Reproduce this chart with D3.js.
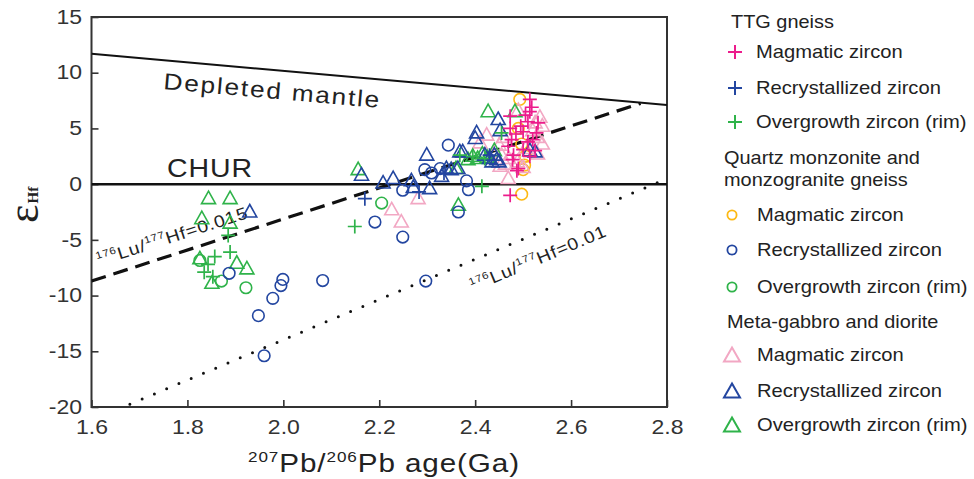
<!DOCTYPE html>
<html>
<head>
<meta charset="utf-8">
<script src="https://cdn.jsdelivr.net/npm/d3@7"></script>
<style>
  html, body { margin: 0; padding: 0; background: #fff; }
  svg { display: block; font-family: Arial, "Liberation Sans", Helvetica, sans-serif; }
</style>
</head>
<body>
<svg id="chart" width="974" height="479"></svg>
<script>
// ---- axis ticks ----
const xTicks = [1.6, 1.8, 2.0, 2.2, 2.4, 2.6, 2.8];
const yTicks = [-20, -15, -10, -5, 0, 5, 10, 15];

// ---- reference evolution lines [age (Ga), εHf] ----
const depletedMantle = [[1.6, 11.7], [2.8, 7.1]];
const chur = [[1.6, 0], [2.8, 0]];
const lu015 = [[1.6, -8.7], [2.745, 7.25]];
const lu010 = [[1.68, -19.75], [2.795, 0.4]];

// ---- TTG gneiss ----
const ttgMagmatic = [
  [2.514, 7.6], [2.514, 6.5], [2.473, 6.1], [2.510, 5.6], [2.531, 5.5], [2.473, 5.0],
  [2.500, 4.7], [2.528, 4.6], [2.476, 4.0], [2.510, 3.8], [2.469, 3.4], [2.500, 3.1],
  [2.525, 3.0], [2.480, 2.6], [2.514, 2.5], [2.490, 1.4], [2.487, 1.2], [2.473, -1.0],
  [2.495, 5.2], [2.520, 4.0], [2.505, 6.2], [2.485, 4.5], [2.478, 2.2], [2.518, 6.9]
];
const ttgRecryst = [[2.170, -1.3], [2.283, -0.7], [2.335, 1.0], [2.430, 2.6]];
const ttgOvergrowth = [
  [1.885, -4.6], [1.889, -6.1], [1.857, -6.5], [1.843, -7.2], [1.835, -7.9], [1.853, -8.3],
  [2.149, -3.8], [2.414, -0.2], [2.455, 4.6], [2.368, 2.6], [2.395, 2.5], [2.420, 2.3]
];

// ---- Quartz monzonite and monzogranite gneiss ----
const qmMagmatic = [[2.493, 7.6], [2.500, 1.3], [2.497, -0.9], [2.503, 1.7], [2.497, 3.6], [2.490, 5.0], [2.505, 2.5]];
const qmRecryst = [
  [1.887, -8.0], [1.948, -11.8], [1.978, -10.25], [1.995, -9.1], [1.999, -8.55], [2.082, -8.65],
  [1.960, -15.4], [2.297, -8.7], [2.191, -3.4], [2.249, -4.75], [2.249, -0.55], [2.295, 1.3],
  [2.344, 3.5], [2.309, 1.0], [2.327, 1.4], [2.382, 0.3], [2.386, -0.5], [2.365, -2.5]
];
const qmOvergrowth = [[1.826, -6.85], [1.871, -8.7], [1.922, -9.3], [2.205, -1.7]];

// ---- Meta-gabbro and diorite ----
const mgMagmatic = [
  [2.226, -2.3], [2.246, -3.4], [2.281, -1.3], [2.424, 4.4], [2.469, 0.5], [2.463, 1.8],
  [2.488, 2.0], [2.450, 3.5], [2.455, 2.6], [2.460, 4.2], [2.490, 6.6], [2.525, 5.5],
  [2.540, 5.2], [2.530, 4.2], [2.505, 3.2], [2.540, 3.6], [2.530, 2.7], [2.470, 2.3],
  [2.500, 1.5], [2.410, 3.7], [2.452, 1.6], [2.535, 6.0], [2.520, 4.8]
];
const mgRecryst = [
  [1.930, -2.5], [2.163, 0.8], [2.208, 0.1], [2.229, 0.5], [2.267, 0.3], [2.271, -0.3],
  [2.305, -0.4], [2.299, 2.6], [2.330, 0.7], [2.340, 1.4], [2.350, 1.3], [2.374, 2.9],
  [2.364, 1.4], [2.400, 4.1], [2.448, 5.8], [2.452, 4.8], [2.420, 2.6], [2.430, 2.3],
  [2.435, 2.0], [2.440, 2.6], [2.445, 2.2], [2.450, 2.0], [2.514, 3.0], [2.525, 2.9],
  [2.368, 2.9], [2.403, 4.6]
];
const mgOvergrowth = [
  [1.844, -1.3], [1.889, -1.3], [1.830, -3.1], [1.889, -3.5], [1.826, -6.7], [1.903, -7.1],
  [1.924, -7.6], [1.851, -8.9], [2.156, 1.3], [2.365, -1.9], [2.427, 6.5], [2.483, 6.5],
  [2.360, 1.4], [2.385, 2.2], [2.395, 2.5], [2.405, 2.3], [2.415, 2.7], [2.425, 2.4], [2.440, 3.0]
];

const C = {
  magenta: "#ec1c8c",
  blue: "#2346a0",
  green: "#2fb34a",
  yellow: "#fdb913",
  pink: "#f2a7c3",
  ink: "#222"
};
// the lettering is a wide sans; Arial is stretched horizontally to follow it
const WIDE = 1.14;

const svg = d3.select("#chart");
const x = d3.scaleLinear().domain([1.6, 2.8]).range([91.5, 667]);
const y = d3.scaleLinear().domain([-20, 15]).range([407, 17]);

svg.append("defs").append("clipPath").attr("id", "plotClip")
  .append("rect").attr("x", x(1.6)).attr("y", y(15))
  .attr("width", x(2.8) - x(1.6)).attr("height", y(-20) - y(15));

// axes with inward ticks
const xAxis = svg.append("g").attr("transform", `translate(0,${y(-20)})`)
  .call(d3.axisBottom(x).tickValues(xTicks).tickFormat(d3.format(".1f"))
    .tickSizeInner(-7).tickSizeOuter(0).tickPadding(13));
const yAxis = svg.append("g").attr("transform", `translate(${x(1.6)},0)`)
  .call(d3.axisLeft(y).tickValues(yTicks).tickFormat(d => d)
    .tickSizeInner(-7).tickSizeOuter(0).tickPadding(9.5));
[xAxis, yAxis].forEach(g => {
  g.select(".domain").remove();
  g.selectAll(".tick line").attr("stroke", "#333").attr("stroke-width", 1.6);
  g.selectAll(".tick text").attr("fill", "#333").style("font-size", "19.5px")
    .style("font-family", "Arial, 'Liberation Sans', sans-serif")
    .attr("transform", `scale(${WIDE + 0.04},1)`);
});
yAxis.selectAll(".tick text").attr("transform", null)
  .attr("transform", function () {
    // keep the right edge anchored while widening
    const tx = +d3.select(this).attr("x");
    return `translate(${tx},0) scale(${WIDE + 0.04},1) translate(${-tx},0)`;
  });

// plot frame
svg.append("rect")
  .attr("x", x(1.6)).attr("y", y(15))
  .attr("width", x(2.8) - x(1.6)).attr("height", y(-20) - y(15))
  .attr("fill", "none").attr("stroke", "#333").attr("stroke-width", 2);

// reference lines
const line = d3.line().x(d => x(d[0])).y(d => y(d[1]));
const refs = svg.append("g").attr("clip-path", "url(#plotClip)");
refs.append("path").attr("d", line(depletedMantle)).attr("fill", "none")
  .attr("stroke", "#111").attr("stroke-width", 2);
refs.append("path").attr("d", line(chur)).attr("fill", "none")
  .attr("stroke", "#111").attr("stroke-width", 2.5);
refs.append("path").attr("d", line(lu015)).attr("fill", "none")
  .attr("stroke", "#111").attr("stroke-width", 3.2).attr("stroke-dasharray", "15 8");
refs.append("path").attr("d", line(lu010)).attr("fill", "none")
  .attr("stroke", "#111").attr("stroke-width", 3).attr("stroke-linecap", "round")
  .attr("stroke-dasharray", "0 13.3");

// helper: text placed at (tx,ty), rotated, widened
function wideText(tx, ty, angle, size, spacing) {
  return svg.append("text")
    .attr("transform", `translate(${tx},${ty}) rotate(${angle}) scale(${WIDE},1)`)
    .attr("fill", C.ink).style("font-size", size + "px")
    .style("letter-spacing", spacing + "px");
}

// line labels
wideText(163, 89, 5, 23, 1.6).text("Depleted mantle");
wideText(167, 177, 0, 25, 0.8).text("CHUR");

function ratioLabel(tx, ty, angle, value) {
  const t = wideText(tx, ty, angle, 17, 0.7);
  t.append("tspan").attr("dy", -7).style("font-size", "10px").text("176");
  t.append("tspan").attr("dy", 7).text("Lu/");
  t.append("tspan").attr("dy", -7).style("font-size", "10px").text("177");
  t.append("tspan").attr("dy", 7).text("Hf=" + value);
}
ratioLabel(99, 266, -17.8, "0.015");
ratioLabel(473, 292, -22.7, "0.01");

// marker shapes
function plusPath(cx, cy, h) {
  return `M${cx - h},${cy}H${cx + h}M${cx},${cy - h}V${cy + h}`;
}
function triPath(cx, cy, w, h) {
  return `M${cx},${cy - h * 0.6}L${cx + w / 2},${cy + h * 0.4}L${cx - w / 2},${cy + h * 0.4}Z`;
}

const marks = svg.append("g");
function drawCircles(data, color) {
  marks.append("g").selectAll("circle").data(data).join("circle")
    .attr("cx", d => x(d[0])).attr("cy", d => y(d[1])).attr("r", 5.8)
    .attr("fill", "none").attr("stroke", color).attr("stroke-width", 1.6);
}
function drawTriangles(data, color) {
  marks.append("g").selectAll("path").data(data).join("path")
    .attr("d", d => triPath(x(d[0]), y(d[1]), 14, 12.5))
    .attr("fill", "none").attr("stroke", color).attr("stroke-width", 1.6)
    .attr("stroke-linejoin", "miter");
}
function drawPluses(data, color) {
  marks.append("g").selectAll("path").data(data).join("path")
    .attr("d", d => plusPath(x(d[0]), y(d[1]), 7))
    .attr("fill", "none").attr("stroke", color).attr("stroke-width", 1.7);
}

drawCircles(qmMagmatic, C.yellow);
drawTriangles(mgMagmatic, C.pink);
drawTriangles(mgOvergrowth, C.green);
drawCircles(qmOvergrowth, C.green);
drawTriangles(mgRecryst, C.blue);
drawCircles(qmRecryst, C.blue);
drawPluses(ttgOvergrowth, C.green);
drawPluses(ttgRecryst, C.blue);
drawPluses(ttgMagmatic, C.magenta);

// axis titles
const xt = wideText(248, 472, 0, 26, 0.8);
xt.append("tspan").attr("dy", -10).style("font-size", "15px").text("207");
xt.append("tspan").attr("dy", 10).text("Pb/");
xt.append("tspan").attr("dy", -10).style("font-size", "15px").text("206");
xt.append("tspan").attr("dy", 10).text("Pb age(Ga)");

const yt = svg.append("text").attr("transform", "translate(38,223) rotate(-90)").attr("fill", C.ink);
yt.append("tspan").style("font-size", "44px").style("font-family", "'Liberation Serif', 'DejaVu Serif', serif").text("ε");
yt.append("tspan").attr("dx", 1).style("font-size", "15px").style("font-weight", "bold")
  .style("font-family", "'Liberation Serif', 'DejaVu Serif', serif").text("Hf");

// legend
const legend = svg.append("g").attr("fill", C.ink);
const legendTitles = [
  { text: "TTG gneiss", x: 731, y: 22 },
  { text: "Quartz monzonite and", x: 724, y: 158 },
  { text: "monzogranite gneiss", x: 724, y: 180 },
  { text: "Meta-gabbro and diorite", x: 727, y: 322 }
];
const legendItems = [
  { shape: "plus", color: C.magenta, text: "Magmatic zircon", y: 52 },
  { shape: "plus", color: C.blue, text: "Recrystallized zircon", y: 88 },
  { shape: "plus", color: C.green, text: "Overgrowth zircon (rim)", y: 122 },
  { shape: "circle", color: C.yellow, text: "Magmatic zircon", y: 215 },
  { shape: "circle", color: C.blue, text: "Recrystallized zircon", y: 250 },
  { shape: "circle", color: C.green, text: "Overgrowth zircon (rim)", y: 287 },
  { shape: "tri", color: C.pink, text: "Magmatic zircon", y: 355 },
  { shape: "tri", color: C.blue, text: "Recrystallized zircon", y: 391 },
  { shape: "tri", color: C.green, text: "Overgrowth zircon (rim)", y: 425 }
];
legend.selectAll("text.title").data(legendTitles).join("text").attr("class", "title")
  .attr("transform", d => `translate(${d.x},${d.y}) scale(${WIDE - 0.02},1)`).attr("dy", "0.35em")
  .style("font-size", "17.8px").text(d => d.text);
legend.selectAll("text.item").data(legendItems).join("text").attr("class", "item")
  .attr("transform", d => `translate(${d.shape === "plus" ? 756 : 757},${d.y}) scale(${WIDE - 0.02},1)`)
  .attr("dy", "0.35em").style("font-size", "18px").text(d => d.text);
legend.selectAll("path.mk").data(legendItems).join("path").attr("class", "mk")
  .attr("d", d => d.shape === "plus" ? plusPath(735, d.y, 7)
    : d.shape === "tri" ? triPath(732, d.y + 1, 16, 14) : null)
  .attr("fill", "none").attr("stroke", d => d.color).attr("stroke-width", 2);
legend.selectAll("circle.mk").data(legendItems.filter(d => d.shape === "circle")).join("circle")
  .attr("class", "mk").attr("cx", 732).attr("cy", d => d.y).attr("r", 4.6)
  .attr("fill", "none").attr("stroke", d => d.color).attr("stroke-width", 1.8);
</script>
</body>
</html>
